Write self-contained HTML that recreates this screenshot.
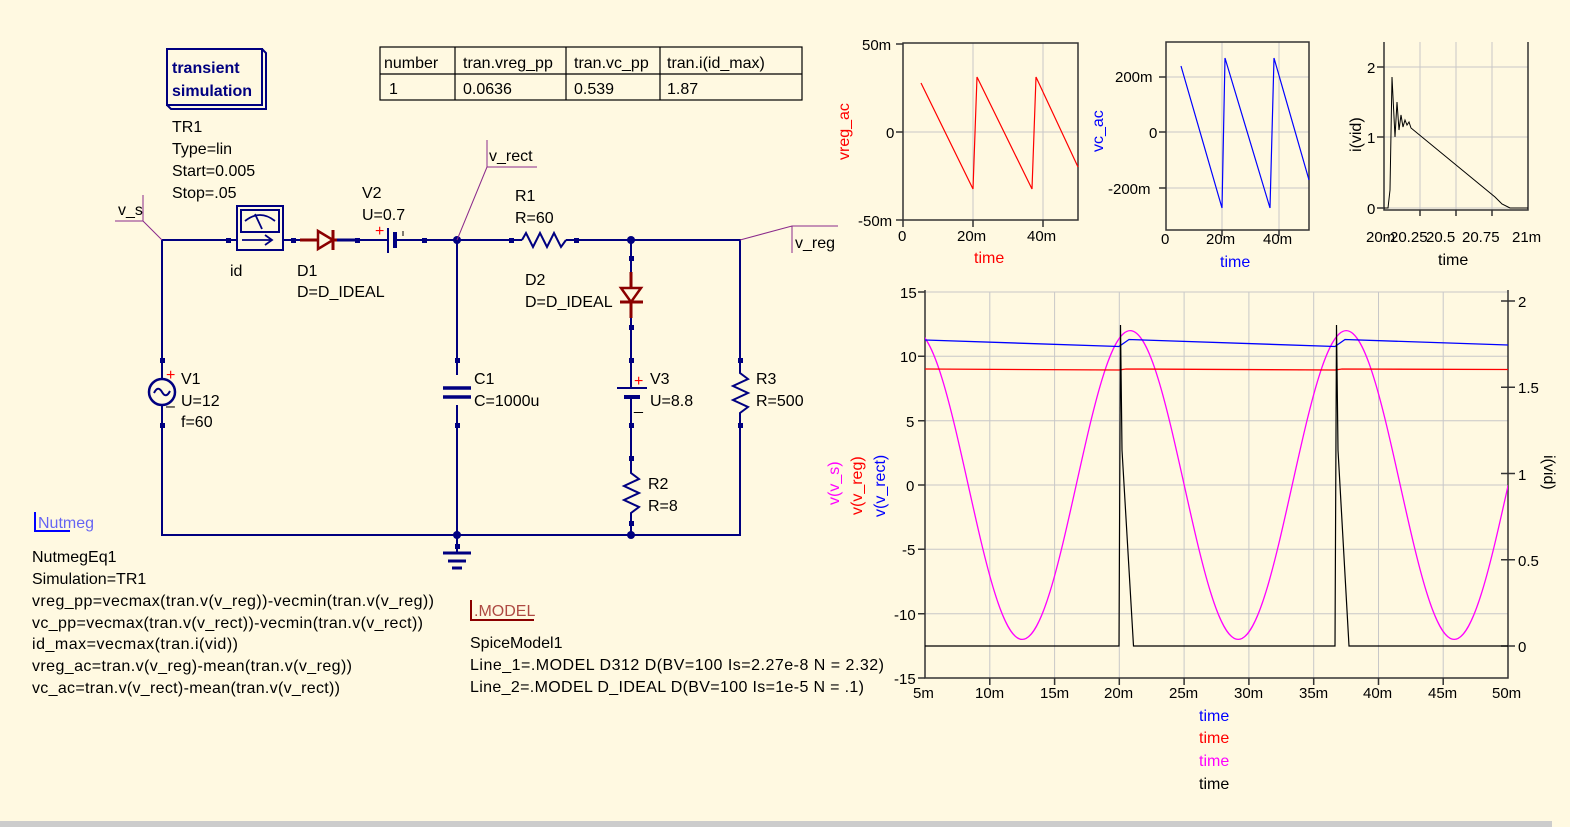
<!DOCTYPE html>
<html><head><meta charset="utf-8"><style>
html,body{margin:0;padding:0;background:#fff9e1;}
svg{display:block;}
text{font-family:"Liberation Sans",sans-serif;font-size:16px;fill:#000;}
.w{stroke:#000080;stroke-width:2;fill:none;}
.g{stroke:#c8c8c8;stroke-width:1;}
.ax{stroke:#333;stroke-width:1.5;fill:none;}
.t{font-size:15px;}
</style></head><body>
<svg width="1570" height="827" viewBox="0 0 1570 827" xmlns="http://www.w3.org/2000/svg">
<rect width="1570" height="827" fill="#fff9e1"/>
<rect x="0" y="821" width="1552" height="6" fill="#cccccc"/>

<!-- transient box -->
<rect x="167" y="49" width="95" height="56" fill="#fff9e1" stroke="#000080" stroke-width="2"/>
<path d="M262,49 L266,53 L266,109 L171,109 L167,105" fill="none" stroke="#000080" stroke-width="2"/>
<text x="172" y="73" style="fill:#000080;font-weight:bold" font-size="16">transient</text>
<text x="172" y="96" style="fill:#000080;font-weight:bold" font-size="16">simulation</text>
<text x="172" y="132">TR1</text>
<text x="172" y="154">Type=lin</text>
<text x="172" y="176">Start=0.005</text>
<text x="172" y="198">Stop=.05</text>

<!-- table -->
<g stroke="#000" stroke-width="1.2" fill="none">
<rect x="380" y="47" width="422" height="53"/>
<line x1="380" y1="74" x2="802" y2="74"/>
<line x1="455" y1="47" x2="455" y2="100"/>
<line x1="566" y1="47" x2="566" y2="100"/>
<line x1="660" y1="47" x2="660" y2="100"/>
</g>
<text x="384" y="68">number</text><text x="463" y="68">tran.vreg_pp</text><text x="574" y="68">tran.vc_pp</text><text x="667" y="68">tran.i(id_max)</text>
<text x="389" y="94">1</text><text x="463" y="94">0.0636</text><text x="574" y="94">0.539</text><text x="667" y="94">1.87</text>

<!-- wires -->
<path class="w" d="M162,240 H237 M283,240 H300 M358,240 H389 M396,240 H522 M566,240 H740 V535 H162 V240 M457,240 V535 M631,240 V535 M457,535 V553"/>
<g fill="#000080">
<circle cx="457" cy="240" r="4"/><circle cx="631" cy="240" r="4"/><circle cx="457" cy="535" r="4"/><circle cx="631" cy="535" r="4"/>
<rect x="226" y="238" width="5" height="5"/><rect x="291" y="238" width="5" height="5"/><rect x="355" y="238" width="5" height="5"/><rect x="422" y="238" width="5" height="5"/><rect x="509" y="238" width="5" height="5"/><rect x="574" y="238" width="5" height="5"/>
<rect x="629" y="256" width="5" height="5"/><rect x="629" y="325" width="5" height="5"/><rect x="629" y="358" width="5" height="5"/><rect x="629" y="423" width="5" height="5"/><rect x="629" y="456" width="5" height="5"/><rect x="629" y="521" width="5" height="5"/>
<rect x="455" y="358" width="5" height="5"/><rect x="455" y="423" width="5" height="5"/><rect x="455" y="544" width="5" height="5"/>
<rect x="738" y="358" width="5" height="5"/><rect x="738" y="423" width="5" height="5"/>
<rect x="160" y="358" width="5" height="5"/><rect x="160" y="423" width="5" height="5"/>
</g>
<!-- ammeter -->
<rect x="237" y="206" width="46" height="44" fill="#fff9e1" stroke="#000080" stroke-width="2"/>
<rect x="241" y="210" width="38" height="22" fill="none" stroke="#000080" stroke-width="2"/>
<path d="M245,221 Q260,209 275,221 M255,214 L262,229 M242,240 H272 M265,235 L272,240 L265,245" fill="none" stroke="#000080" stroke-width="1.8"/>
<text x="230" y="276">id</text>
<!-- D1 -->
<path d="M300,240 H337" stroke="#8b0000" stroke-width="3"/>
<path d="M318,231 L333,240 L318,249 Z" fill="#fff9e1" stroke="#8b0000" stroke-width="2.5"/>
<line x1="333" y1="230" x2="333" y2="250" stroke="#8b0000" stroke-width="3"/>
<path d="M337,240 H358" stroke="#000080" stroke-width="3"/>
<text x="297" y="276">D1</text><text x="297" y="297">D=D_IDEAL</text>
<!-- V2 -->
<line x1="388" y1="228" x2="388" y2="253" stroke="#000080" stroke-width="2"/>
<line x1="395" y1="232" x2="395" y2="248" stroke="#000080" stroke-width="4"/>
<text x="375" y="236" style="fill:red" font-size="13">+</text>
<line x1="403" y1="231" x2="403" y2="236" stroke="#000" stroke-width="1"/>
<text x="362" y="198">V2</text><text x="362" y="220">U=0.7</text>
<!-- R1 -->
<path class="w" d="M522,240 L526,233 L533,247 L540,233 L547,247 L554,233 L561,247 L566,240"/>
<text x="515" y="201">R1</text><text x="515" y="223">R=60</text>
<!-- D2 -->
<path d="M631,272 V318" stroke="#8b0000" stroke-width="3"/>
<path d="M621,288 L641,288 L631,302 Z" fill="#fff9e1" stroke="#8b0000" stroke-width="2.5"/>
<line x1="620" y1="302" x2="643" y2="302" stroke="#8b0000" stroke-width="3"/>
<text x="525" y="285">D2</text><text x="525" y="307">D=D_IDEAL</text>
<!-- C1 -->
<rect x="443" y="375" width="28" height="30" fill="#fff9e1"/>
<line x1="443" y1="388" x2="471" y2="388" stroke="#000080" stroke-width="3.5"/>
<line x1="443" y1="397" x2="471" y2="397" stroke="#000080" stroke-width="3.5"/>
<text x="474" y="384">C1</text><text x="474" y="406">C=1000u</text>
<!-- V3 -->
<rect x="615" y="380" width="34" height="24" fill="#fff9e1"/>
<line x1="617" y1="388" x2="647" y2="388" stroke="#000080" stroke-width="2"/>
<line x1="624" y1="397" x2="640" y2="397" stroke="#000080" stroke-width="4"/>
<path d="M631,388 V380 M631,397 V404" stroke="#000080" stroke-width="2"/>
<text x="634" y="386" style="fill:red" font-size="13">+</text>
<text x="634" y="410" font-size="13">_</text>
<text x="650" y="384">V3</text><text x="650" y="406">U=8.8</text>
<!-- R2 -->
<rect x="620" y="470" width="22" height="44" fill="#fff9e1"/>
<path class="w" d="M631,466 V473 L639,479 L624,486 L639,493 L624,500 L639,507 L631,513 V520"/>
<text x="648" y="489">R2</text><text x="648" y="511">R=8</text>
<!-- R3 -->
<rect x="729" y="368" width="22" height="50" fill="#fff9e1"/>
<path class="w" d="M740,366 V373 L748,379 L733,386 L748,393 L733,400 L748,407 L740,413 V420"/>
<text x="756" y="384">R3</text><text x="756" y="406">R=500</text>
<!-- V1 -->
<circle cx="162" cy="392" r="13" fill="#fff9e1" stroke="#000080" stroke-width="2.5"/>
<path d="M154,393 Q158,385 162,392 Q166,399 170,391" fill="none" stroke="#000080" stroke-width="2"/>
<text x="166" y="380" style="fill:red" font-size="13">+</text>
<text x="166" y="411" font-size="13">–</text>
<text x="181" y="384">V1</text><text x="181" y="406">U=12</text><text x="181" y="427">f=60</text>
<!-- ground -->
<g stroke="#000080" stroke-width="3"><line x1="443" y1="553" x2="471" y2="553"/><line x1="448" y1="561" x2="466" y2="561"/><line x1="452" y1="568" x2="462" y2="568"/></g>

<!-- wire labels -->
<path d="M115,221 H143 V195 M143,221 L162,240" stroke="#8b2a8b" stroke-width="1" fill="none"/>
<text x="118" y="215">v_s</text>
<path d="M537,167 H487 V140 M487,167 L457,240" stroke="#8b2a8b" stroke-width="1" fill="none"/>
<text x="489" y="161">v_rect</text>
<path d="M740,240 L792,226 H838 M792,226 V253" stroke="#8b2a8b" stroke-width="1" fill="none"/>
<text x="795" y="248">v_reg</text>

<!-- Nutmeg -->
<path d="M35,512 V531 H70" stroke="#0000ff" stroke-width="2" fill="none"/>
<text x="38" y="528" style="fill:#0000ff;opacity:.6">Nutmeg</text>
<text x="32" y="562">NutmegEq1</text>
<text x="32" y="584">Simulation=TR1</text>
<text x="32" y="606" textLength="402">vreg_pp=vecmax(tran.v(v_reg))-vecmin(tran.v(v_reg))</text>
<text x="32" y="628" textLength="391">vc_pp=vecmax(tran.v(v_rect))-vecmin(tran.v(v_rect))</text>
<text x="32" y="649" textLength="206">id_max=vecmax(tran.i(vid))</text>
<text x="32" y="671" textLength="320">vreg_ac=tran.v(v_reg)-mean(tran.v(v_reg))</text>
<text x="32" y="693" textLength="308">vc_ac=tran.v(v_rect)-mean(tran.v(v_rect))</text>
<!-- MODEL -->
<path d="M471,600 V620 H534" stroke="#8b0000" stroke-width="2" fill="none"/>
<text x="474" y="616" style="fill:#8b0000;opacity:.7">.MODEL</text>
<text x="470" y="648">SpiceModel1</text>
<text x="470" y="670" textLength="414">Line_1=.MODEL D312 D(BV=100 Is=2.27e-8 N = 2.32)</text>
<text x="470" y="692" textLength="394">Line_2=.MODEL D_IDEAL D(BV=100 Is=1e-5 N = .1)</text>

<!-- plot 1 -->
<g class="g"><line x1="973" y1="43" x2="973" y2="220"/><line x1="1043" y1="43" x2="1043" y2="220"/><line x1="903" y1="132" x2="1078" y2="132"/></g>
<rect x="903" y="43" width="175" height="177" class="ax"/>
<path class="ax" d="M896,44 H903 M896,132 H903 M896,220 H903 M973,220 V227 M1043,220 V227 M903,220 V227"/>
<text x="862" y="50" class="t">50m</text><text x="886" y="138" class="t">0</text><text x="858" y="226" class="t">-50m</text>
<text x="898" y="241" class="t">0</text><text x="957" y="241" class="t">20m</text><text x="1027" y="241" class="t">40m</text>
<text x="974" y="263" style="fill:red">time</text>
<text transform="translate(849,160) rotate(-90)" style="fill:red">vreg_ac</text>
<polyline points="921,83 973,189 977,77 1032,189 1036,77 1078,167" fill="none" stroke="red" stroke-width="1.2"/>

<!-- plot 2 -->
<g class="g"><line x1="1222" y1="42" x2="1222" y2="230"/><line x1="1279" y1="42" x2="1279" y2="230"/><line x1="1166" y1="77" x2="1309" y2="77"/><line x1="1166" y1="132" x2="1309" y2="132"/><line x1="1166" y1="188" x2="1309" y2="188"/></g>
<rect x="1166" y="42" width="143" height="188" class="ax"/>
<path class="ax" d="M1159,77 H1166 M1159,132 H1166 M1159,188 H1166 M1222,230 V236 M1279,230 V236"/>
<text x="1115" y="82" class="t">200m</text><text x="1149" y="138" class="t">0</text><text x="1108" y="194" class="t">-200m</text>
<text x="1161" y="244" class="t">0</text><text x="1206" y="244" class="t">20m</text><text x="1263" y="244" class="t">40m</text>
<text x="1220" y="267" style="fill:#0000ff">time</text>
<text transform="translate(1103,152) rotate(-90)" style="fill:#0000ff">vc_ac</text>
<polyline points="1181,66 1222,208 1225,58 1270,208 1274,58 1309,180" fill="none" stroke="#0000ff" stroke-width="1.2"/>

<!-- plot 3 -->
<g class="g"><line x1="1420" y1="42" x2="1420" y2="210"/><line x1="1456" y1="42" x2="1456" y2="210"/><line x1="1492" y1="42" x2="1492" y2="210"/><line x1="1384" y1="67" x2="1528" y2="67"/><line x1="1384" y1="137" x2="1528" y2="137"/><line x1="1384" y1="208" x2="1528" y2="208"/></g>
<path class="ax" d="M1384,42 V210 H1528 V42 M1377,67 H1384 M1377,137 H1384 M1377,208 H1384 M1420,210 V216 M1456,210 V216 M1492,210 V216"/>
<text x="1367" y="73" class="t">2</text><text x="1367" y="143" class="t">1</text><text x="1367" y="214" class="t">0</text>
<text x="1366" y="242" class="t">20m</text><text x="1390" y="242" class="t">20.25</text><text x="1426" y="242" class="t">20.5</text><text x="1462" y="242" class="t">20.75</text><text x="1512" y="242" class="t">21m</text>
<text x="1438" y="265">time</text>
<text transform="translate(1361,152) rotate(-90)">i(vid)</text>
<polyline points="1384,208 1388,208 1390,190 1392,77 1395,137 1397,102 1399,130 1401,115 1403,127 1405,120 1407,125 1409,122 1411,128 1495,197 1502,204 1510,208 1528,208" fill="none" stroke="#000" stroke-width="1"/>

<!-- big plot -->
<g class="g">
<line x1="989.8" y1="292" x2="989.8" y2="678"/><line x1="1054.6" y1="292" x2="1054.6" y2="678"/><line x1="1119.3" y1="292" x2="1119.3" y2="678"/><line x1="1184.1" y1="292" x2="1184.1" y2="678"/><line x1="1248.9" y1="292" x2="1248.9" y2="678"/><line x1="1313.7" y1="292" x2="1313.7" y2="678"/><line x1="1378.5" y1="292" x2="1378.5" y2="678"/><line x1="1443.2" y1="292" x2="1443.2" y2="678"/>
<line x1="925" y1="292" x2="1508" y2="292"/><line x1="925" y1="356.3" x2="1508" y2="356.3"/><line x1="925" y1="420.7" x2="1508" y2="420.7"/><line x1="925" y1="485" x2="1508" y2="485"/><line x1="925" y1="549.3" x2="1508" y2="549.3"/><line x1="925" y1="613.7" x2="1508" y2="613.7"/>
</g>
<path class="ax" d="M925,290 V678 H1508 V290"/>
<path class="ax" d="M918,292 H925 M918,356.3 H925 M918,420.7 H925 M918,485 H925 M918,549.3 H925 M918,613.7 H925 M918,678 H925 M989.8,678 V685 M1054.6,678 V685 M1119.3,678 V685 M1184.1,678 V685 M1248.9,678 V685 M1313.7,678 V685 M1378.5,678 V685 M1443.2,678 V685 M1501,301 H1515 M1501,387.3 H1515 M1501,473.5 H1515 M1501,559.8 H1515 M1501,646 H1515"/>
<text x="900" y="298" class="t">15</text><text x="900" y="362" class="t">10</text><text x="906" y="427" class="t">5</text><text x="906" y="491" class="t">0</text><text x="902" y="555" class="t">-5</text><text x="894" y="620" class="t">-10</text><text x="894" y="684" class="t">-15</text>
<text x="1518" y="307" class="t">2</text><text x="1518" y="393" class="t">1.5</text><text x="1518" y="480" class="t">1</text><text x="1518" y="566" class="t">0.5</text><text x="1518" y="652" class="t">0</text>
<text x="913" y="698" class="t">5m</text><text x="975" y="698" class="t">10m</text><text x="1040" y="698" class="t">15m</text><text x="1104" y="698" class="t">20m</text><text x="1169" y="698" class="t">25m</text><text x="1234" y="698" class="t">30m</text><text x="1299" y="698" class="t">35m</text><text x="1363" y="698" class="t">40m</text><text x="1428" y="698" class="t">45m</text><text x="1492" y="698" class="t">50m</text>
<text x="1199" y="721" style="fill:#0000ff">time</text>
<text x="1199" y="743" style="fill:red">time</text>
<text x="1199" y="766" style="fill:#ff00ff">time</text>
<text x="1199" y="789">time</text>
<text transform="translate(839,505) rotate(-90)" style="fill:#ff00ff">v(v_s)</text>
<text transform="translate(862,515) rotate(-90)" style="fill:red">v(v_reg)</text>
<text transform="translate(885,517) rotate(-90)" style="fill:#0000ff">v(v_rect)</text>
<text transform="translate(1544,455) rotate(90)">i(vid)</text>
<clipPath id="cp"><rect x="925" y="292" width="583" height="386"/></clipPath>
<g clip-path="url(#cp)" fill="none" stroke-width="1.3">
<path stroke="#ff00ff" d="M860.2,485 c17.6,-79.1 34.4,-154.4 54,-154.4 c19.6,0 36.4,75.3 54,154.4 c17.6,79.1 34.4,154.4 54,154.4 c19.6,0 36.4,-75.3 54,-154.4 c17.6,-79.1 34.4,-154.4 54,-154.4 c19.6,0 36.4,75.3 54,154.4 c17.6,79.1 34.4,154.4 54,154.4 c19.6,0 36.4,-75.3 54,-154.4 c17.6,-79.1 34.4,-154.4 54,-154.4 c19.6,0 36.4,75.3 54,154.4 c17.6,79.1 34.4,154.4 54,154.4 c19.6,0 36.4,-75.3 54,-154.4"/>
<polyline stroke="#0000ff" points="925,340 1119,346.5 1124,343 1129,339.5 1335,346.5 1340,343 1345,339.5 1508,345"/>
<polyline stroke="red" points="925,369 1119,370 1126,369 1335,370 1342,369 1508,369.5"/>
<polyline stroke="#000" stroke-width="1.2" points="925,646 1119,646 1120.5,325 1122,450 1133.5,646 1335,646 1336.5,325 1338,450 1349,646 1508,646"/>
</g>
</svg>
</body></html>
